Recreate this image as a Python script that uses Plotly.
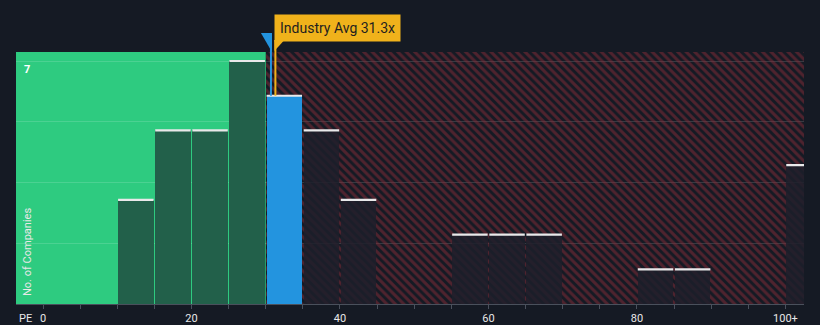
import plotly.graph_objects as go

# ---- data ----
bin_starts = [10, 15, 20, 25, 30, 35, 40, 55, 60, 65, 80, 85, 100]
counts = [3, 5, 5, 7, 6, 5, 3, 2, 2, 2, 1, 1, 4]
bin_width = 5
company_pe = 30.7
industry_avg = 31.3
green_limit = 30
x_tick_vals = [0, 20, 40, 60, 80, 100]
x_tick_text = ["0", "20", "40", "60", "80", "100+"]
y_grid_vals = [1.75, 3.5, 5.25, 7]

# ---- layout constants ----
W, H = 820, 325
ML, MR, MT, MB = 16, 16, 52, 21
x_min, x_max = -3.64, 102.5
y_max = 7.26
BG = "#151a24"

centers = [s + bin_width / 2 for s in bin_starts]
colors = []
for s in bin_starts:
    if s + bin_width <= green_limit:
        colors.append("#22604a")
    elif s <= company_pe < s + bin_width:
        colors.append("#2394df")
    else:
        colors.append("rgba(29,31,43,0.84)")

fig = go.Figure()

# hatched region
fig.add_trace(go.Bar(
    x=[(green_limit + x_max) / 2], y=[y_max], width=[x_max - green_limit],
    marker=dict(color="rgba(0,0,0,0)", line=dict(width=0),
                pattern=dict(shape="\\", fgcolor="#8a2c38", bgcolor="rgba(0,0,0,0)",
                             size=6, solidity=0.5)),
    hoverinfo="skip", showlegend=False))

# histogram bars
fig.add_trace(go.Bar(
    x=centers, y=counts, width=[bin_width - 0.22] * len(centers),
    marker=dict(color=colors, line=dict(width=0)),
    showlegend=False))

# white bar tops
tx, ty = [], []
for c, v in zip(centers, counts):
    tx += [c - (bin_width - 0.22) / 2, c + (bin_width - 0.22) / 2, None]
    ty += [v, v, None]
fig.add_trace(go.Scatter(x=tx, y=ty, mode="lines",
                         line=dict(color="#e9e9ea", width=2.2),
                         hoverinfo="skip", showlegend=False))

shapes = []
# green region
shapes.append(dict(type="rect", xref="x", yref="paper", x0=x_min, x1=green_limit,
                   y0=0, y1=1, fillcolor="#2ecb80", line=dict(width=0), layer="below"))

plot_h = H - MT - MB
def py(px_above_top):
    return 1 + px_above_top / plot_h

company_count = counts[[i for i, s in enumerate(bin_starts) if s <= company_pe < s + bin_width][0]]
ux = (x_max - x_min) / (W - ML - MR)
# company line + triangle
shapes.append(dict(type="line", xref="x", yref="paper", x0=company_pe, x1=company_pe,
                   y0=company_count / y_max, y1=py(19), line=dict(color="#2394df", width=2)))
shapes.append(dict(type="path", xref="x", yref="paper",
                   path=f"M {company_pe - 10*ux},{py(19)} L {company_pe + 1*ux},{py(19)} L {company_pe + 1*ux},{py(0)} Z",
                   fillcolor="#2394df", line=dict(width=0)))
# industry line + pointer
shapes.append(dict(type="line", xref="x", yref="paper", x0=industry_avg, x1=industry_avg,
                   y0=company_count / y_max, y1=py(12), line=dict(color="#f0b21b", width=2)))
shapes.append(dict(type="path", xref="x", yref="paper",
                   path=f"M {industry_avg - 1*ux},{py(12)} L {industry_avg + 9*ux},{py(12)} L {industry_avg - 1*ux},{py(1)} Z",
                   fillcolor="#f0b21b", line=dict(width=0)))

annotations = [
    dict(text=f"Industry Avg {industry_avg}x", x=industry_avg - 1*ux, xref="x", y=py(23.5), yref="paper",
         xanchor="left", yanchor="middle", showarrow=False,
         font=dict(family="Roboto", size=14, color="#1f1f1f"),
         bgcolor="#f0b21b", borderpad=5),
    dict(text="<b>7</b>", x=(27 - ML) / (W - ML - MR), xref="paper", y=7, yref="y",
         xanchor="center", yanchor="top", yshift=0, showarrow=False,
         font=dict(family="Roboto", size=11, color="#ffffff")),
    dict(text="No. of Companies", x=(27 - ML) / (W - ML - MR), xref="paper",
         y=52 / plot_h, yref="paper",
         xanchor="center", yanchor="middle", textangle=-90, showarrow=False,
         font=dict(family="Roboto", size=11, color="#e8e8e8")),
    dict(text="PE", x=(25 - ML) / (W - ML - MR), xref="paper", y=-14 / plot_h, yref="paper",
         xanchor="center", yanchor="middle", showarrow=False,
         font=dict(family="Roboto", size=11, color="#e8e8e8")),
]

fig.update_layout(
    width=W, height=H, margin=dict(l=ML, r=MR, t=MT, b=MB, autoexpand=False),
    paper_bgcolor=BG, plot_bgcolor=BG, barmode="overlay", bargap=0,
    shapes=shapes, annotations=annotations,
    xaxis=dict(range=[x_min, x_max], tickmode="array", automargin=False,
               tickvals=list(range(0, 101, 5)),
               ticktext=[x_tick_text[x_tick_vals.index(v)] if v in x_tick_vals else "" for v in range(0, 101, 5)],
               ticks="outside", ticklen=4, tickcolor="#4a505c", showline=True,
               linecolor="#4a505c", linewidth=1, showgrid=False, zeroline=False,
               tickfont=dict(family="Roboto", size=11, color="#e8e8e8")),
    yaxis=dict(range=[0, y_max], tickmode="array", tickvals=y_grid_vals, automargin=False,
               ticktext=[""] * len(y_grid_vals), showgrid=True,
               gridcolor="rgba(255,255,255,0.14)", gridwidth=1, zeroline=False,
               showticklabels=False),
)

fig.write_html("out.html")
